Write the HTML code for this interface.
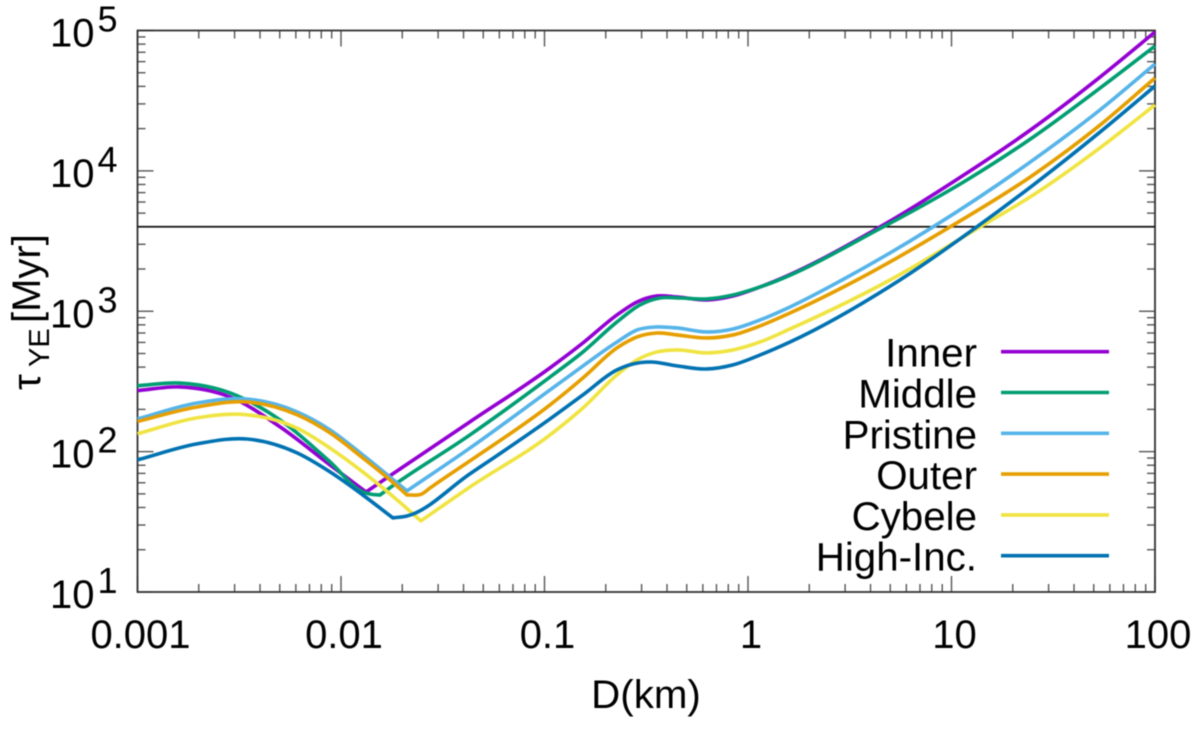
<!DOCTYPE html>
<html>
<head>
<meta charset="utf-8">
<title>Yarkovsky timescale chart</title>
<style>
html,body{margin:0;padding:0;background:#fff;width:1200px;height:729px;overflow:hidden}
svg{display:block;filter:blur(0.5px)}
text{font-family:"Liberation Sans",sans-serif;fill:#000}
</style>
</head>
<body>
<svg id="chart" width="1200" height="729" viewBox="0 0 1200 729" xmlns="http://www.w3.org/2000/svg">
<text x="646" y="708" font-size="40.3" text-anchor="middle">D(km)</text>
<text transform="translate(40,390) rotate(-90)" font-size="40"><tspan x="0">τ</tspan><tspan x="23" dy="9" font-size="29">YE</tspan><tspan x="67" dy="-9">[Myr]</tspan></text>
</svg>
<script>
const xTickValues = [0.001, 0.01, 0.1, 1, 10, 100];
const xTickLabels = ['0.001', '0.01', '0.1', '1', '10', '100'];
const yTickValues = [10, 100, 1000, 10000, 100000];
const yTickExponents = ['1', '2', '3', '4', '5'];
const referenceAge = 4000;

const innerD = [0.001,0.001618,0.00285,0.00502,0.00883,0.01327,0.043,0.1064,0.1546,0.227,0.285,0.357,0.448,0.629,0.844,1.146,4.45,11.9,25.2,53.7,100];
const innerTau = [272,289,245,150,80.4,51.6,163,395,595,941,1165,1285,1264,1204,1285,1490,3985,9660,20200,46600,97500];

const middleD = [0.001,0.001618,0.00285,0.00502,0.00883,0.0128,0.0142,0.01555,0.01683,0.043,0.1064,0.1546,0.227,0.2945,0.369,0.463,0.629,0.844,1.146,4.61,11.9,25.2,53.7,100];
const middleTau = [295,308,262,168,84.5,51.6,49.6,49.1,53.4,131.5,340,513,839,1109,1243,1243,1224,1306,1490,3985,8610,17400,38900,77500];

const pristineD = [0.001,0.00196,0.00345,0.00608,0.00883,0.0128,0.0174,0.0211,0.043,0.1064,0.1546,0.227,0.285,0.357,0.448,0.629,0.844,1.146,1.608,2.9,8.11,25.2,53.7,100];
const pristineTau = [171,222,237,192,143,94.7,66,52.5,106,275,408,604,736,773,760,712,748,867,1073,1670,3985,11960,27200,57700];

const outerD = [0.001,0.00196,0.00345,0.00608,0.00883,0.0128,0.0174,0.0211,0.025,0.0274,0.043,0.1064,0.1546,0.227,0.285,0.357,0.448,0.629,0.844,1.146,1.608,3.43,9.83,25.2,53.7,100];
const outerTau = [164,208,226,183,136,90.2,62.9,49.1,50,55.1,85.9,215,335,548,656,700,678,645,678,786,972,1670,3985,9350,21200,45900];

const cybeleD = [0.001,0.00196,0.00345,0.00608,0.00883,0.0128,0.01885,0.0247,0.043,0.1064,0.1546,0.227,0.285,0.357,0.448,0.629,0.844,1.146,1.608,4.99,13.8,25.2,53.7,100];
const cybeleTau = [134,174,183,147,106,71.7,45.3,32.1,56,131.5,205,352,450,513,530,505,530,604,748,1670,3985,6730,14600,29500];

const highIncD = [0.001,0.00196,0.00345,0.00608,0.00883,0.0128,0.018,0.0211,0.043,0.1064,0.1546,0.227,0.272,0.33,0.448,0.629,0.844,1.146,1.608,5.58,13.3,25.2,53.7,100];
const highIncTau = [87.3,113.5,123,97.9,71.7,49.1,33.7,34.8,69.4,171,254,382,421,435,408,388,415,488,604,1670,3985,7930,18900,40200];

const seriesNames = ['Inner', 'Middle', 'Pristine', 'Outer', 'Cybele', 'High-Inc.'];
const seriesD = [innerD, middleD, pristineD, outerD, cybeleD, highIncD];
const seriesTau = [innerTau, middleTau, pristineTau, outerTau, cybeleTau, highIncTau];
const seriesColors = ['#9400d3', '#009e73', '#56b4e9', '#e69f00', '#f0e442', '#0072b2'];
const seriesSlugs = ['inner', 'middle', 'pristine', 'outer', 'cybele', 'high-inc'];

const plotLeft = 137.5, plotRight = 1155, plotTop = 30.5, plotBottom = 592;
const xMin = 0.001, xMax = 100, yMin = 10, yMax = 100000;
const NS = 'http://www.w3.org/2000/svg';
const svg = document.getElementById('chart');

function xScale(v) {
  return plotLeft + (Math.log10(v) - Math.log10(xMin)) / (Math.log10(xMax) - Math.log10(xMin)) * (plotRight - plotLeft);
}
function yScale(v) {
  return plotBottom - (Math.log10(v) - Math.log10(yMin)) / (Math.log10(yMax) - Math.log10(yMin)) * (plotBottom - plotTop);
}
function make(tag, attrs, parent) {
  const el = document.createElementNS(NS, tag);
  for (const k in attrs) el.setAttribute(k, attrs[k]);
  (parent || svg).appendChild(el);
  return el;
}
function tickLine(x1, y1, x2, y2) {
  const el = make('line', {x1: x1, y1: y1, x2: x2, y2: y2, stroke: '#555', 'stroke-width': 1.4});
  
  
}

// ticks: x axis
const minorSteps = [2, 3, 4, 5, 6, 7, 8, 9];
xTickValues.forEach(function (v, i) {
  const x = xScale(v);
  tickLine(x, plotBottom, x, plotBottom - 16);
  tickLine(x, plotTop, x, plotTop + 16);
  const label = make('text', {x: x + 3, y: 648, 'font-size': 40, 'text-anchor': 'middle'});
  
  
  label.textContent = xTickLabels[i];
  if (i < xTickValues.length - 1) {
    minorSteps.forEach(function (m) {
      const mx = xScale(v * m);
      tickLine(mx, plotBottom, mx, plotBottom - 8);
      tickLine(mx, plotTop, mx, plotTop + 8);
    });
  }
});

// ticks: y axis
yTickValues.forEach(function (v, i) {
  const y = yScale(v);
  tickLine(plotLeft, y, plotLeft + 16, y);
  tickLine(plotRight, y, plotRight - 16, y);
  const label = make('text', {x: 50, y: y + 16, 'font-size': 40});
  
  
  const base = make('tspan', {}, label);
  base.textContent = '10';
  const exp = make('tspan', {dx: 3, dy: -15, 'font-size': 36}, label);
  exp.textContent = yTickExponents[i];
  if (i < yTickValues.length - 1) {
    minorSteps.forEach(function (m) {
      const my = yScale(v * m);
      tickLine(plotLeft, my, plotLeft + 8, my);
      tickLine(plotRight, my, plotRight - 8, my);
    });
  }
});

// frame
const frame = make('rect', {x: plotLeft, y: plotTop, width: plotRight - plotLeft, height: plotBottom - plotTop, fill: 'none', stroke: '#333', 'stroke-width': 1.8});



// reference line
const refLine = make('line', {x1: plotLeft, x2: plotRight, y1: yScale(referenceAge), y2: yScale(referenceAge), stroke: '#111', 'stroke-width': 1.8});



// curves
function curvePath(ds, ts) {
  const p = ds.map(function (d, i) { return [xScale(d), yScale(ts[i])]; });
  const n = p.length;
  const sl = [], hs = [];
  for (let i = 0; i < n - 1; i++) {
    hs.push(p[i + 1][0] - p[i][0]);
    sl.push((p[i + 1][1] - p[i][1]) / hs[i]);
  }
  const mL = [], mR = [];
  for (let i = 0; i < n; i++) {
    if (i === 0) { mL.push(sl[0]); mR.push(sl[0]); continue; }
    if (i === n - 1) { mL.push(sl[n - 2]); mR.push(sl[n - 2]); continue; }
    if (Math.abs(Math.atan(sl[i]) - Math.atan(sl[i - 1])) > 0.6) {
      mL.push(sl[i - 1]); mR.push(sl[i]);
    } else {
      const c = (sl[i - 1] * hs[i] + sl[i] * hs[i - 1]) / (hs[i] + hs[i - 1]);
      mL.push(c); mR.push(c);
    }
  }
  let out = 'M' + p[0][0].toFixed(2) + ' ' + p[0][1].toFixed(2);
  for (let i = 0; i < n - 1; i++) {
    const h = hs[i] / 3;
    out += 'C' + (p[i][0] + h).toFixed(2) + ' ' + (p[i][1] + mR[i] * h).toFixed(2) + ' ' +
      (p[i + 1][0] - h).toFixed(2) + ' ' + (p[i + 1][1] - mL[i + 1] * h).toFixed(2) + ' ' +
      p[i + 1][0].toFixed(2) + ' ' + p[i + 1][1].toFixed(2);
  }
  return out;
}
seriesNames.forEach(function (name, i) {
  const path = make('path', {d: curvePath(seriesD[i], seriesTau[i]), fill: 'none', stroke: seriesColors[i], 'stroke-width': 3.6, 'stroke-linejoin': 'round'});
  
  
});

// legend
seriesNames.forEach(function (name, i) {
  const y = 351.7 + i * 40.8;
  const label = make('text', {x: 977, y: y + 15, 'font-size': 40.3, 'text-anchor': 'end'});
  
  
  label.textContent = name;
  const swatch = make('line', {x1: 1001, x2: 1109, y1: y, y2: y, stroke: seriesColors[i], 'stroke-width': 3.6});
  
  
});
</script>
</body>
</html>
